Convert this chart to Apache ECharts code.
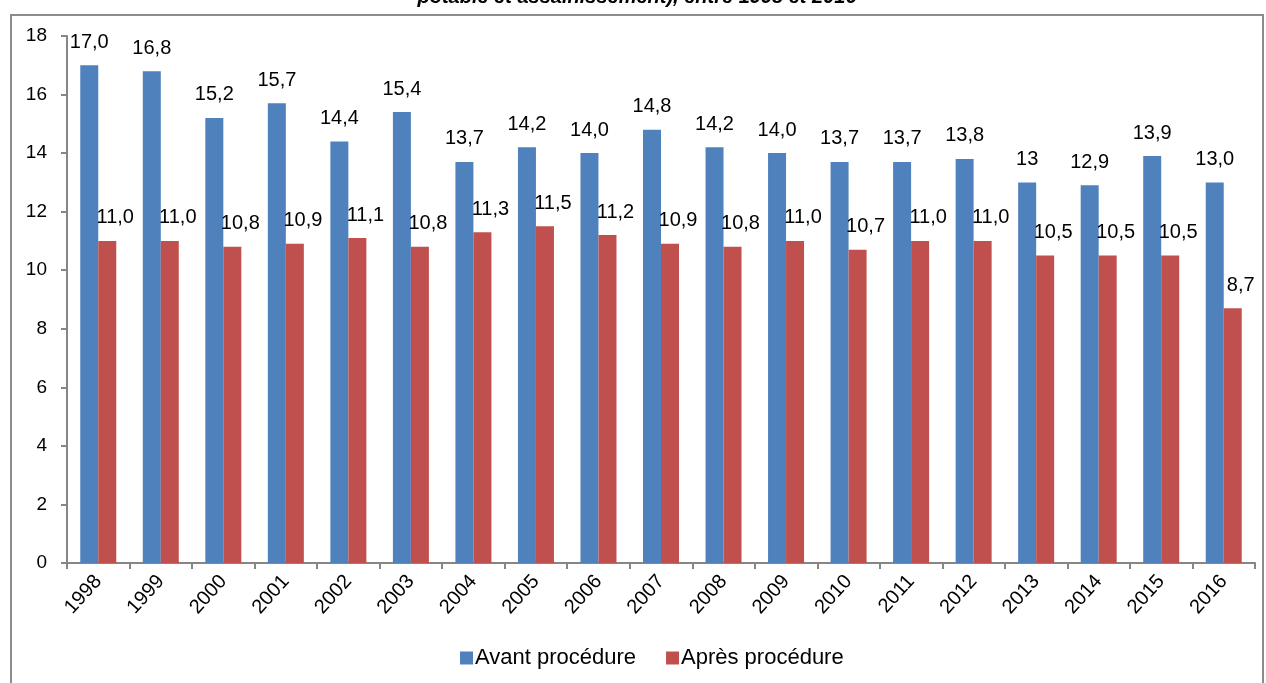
<!DOCTYPE html>
<html>
<head>
<meta charset="utf-8">
<script src="https://cdn.jsdelivr.net/npm/echarts@6/dist/echarts.min.js"></script>
<style>
  html, body { margin: 0; padding: 0; background: #fff; }
  #chart { width: 1266px; height: 683px; }
</style>
</head>
<body>
<div id="chart"></div>
<script>
// données
var annees = ['1998','1999','2000','2001','2002','2003','2004','2005','2006','2007',
              '2008','2009','2010','2011','2012','2013','2014','2015','2016'];
var avant = [17.0, 16.8, 15.2, 15.7, 14.4, 15.4, 13.7, 14.2, 14.0, 14.8,
             14.2, 14.0, 13.7, 13.7, 13.8, 13.0, 12.9, 13.9, 13.0];
var apres = [11.0, 11.0, 10.8, 10.9, 11.1, 10.8, 11.3, 11.5, 11.2, 10.9,
             10.8, 11.0, 10.7, 11.0, 11.0, 10.5, 10.5, 10.5, 8.7];
// étiquettes telles qu'affichées (2013 : "13")
var avantLabels = ['17,0','16,8','15,2','15,7','14,4','15,4','13,7','14,2','14,0','14,8',
                   '14,2','14,0','13,7','13,7','13,8','13','12,9','13,9','13,0'];
var apresLabels = ['11,0','11,0','10,8','10,9','11,1','10,8','11,3','11,5','11,2','10,9',
                   '10,8','11,0','10,7','11,0','11,0','10,5','10,5','10,5','8,7'];
var yTicks = [0, 2, 4, 6, 8, 10, 12, 14, 16, 18];

var font = '"Liberation Sans", Arial, sans-serif';
var chart = echarts.init(document.getElementById('chart'));

var option = {
    animation: false,
    textStyle: { fontFamily: font },
    // cadre + titre coupé en haut
    graphic: [
        {
            type: 'rect',
            shape: { x: 11, y: 15, width: 1252, height: 700 },
            style: { fill: 'none', stroke: '#8c8c8c', lineWidth: 2 }
        },
        {
            type: 'text',
            x: 637, y: 7,
            style: {
                text: 'potable et assainissement), entre 1998 et 2016',
                font: 'italic bold 20px ' + font,
                fill: '#000',
                align: 'center',
                verticalAlign: 'bottom'
            }
        }
    ],
    legend: {
        bottom: 9,
        left: 455,
        icon: 'rect',
        itemWidth: 13,
        itemHeight: 13,
        itemGap: 30,
        textStyle: { fontSize: 22, color: '#000', fontFamily: font, padding: [0, 0, 0, -3] },
        data: ['Avant procédure', 'Après procédure']
    },
    grid: { left: 67, right: 11, top: 36, bottom: 120 },
    xAxis: {
        type: 'category',
        data: annees,
        axisLine: { lineStyle: { color: '#868686', width: 2 } },
        axisTick: { show: true, length: 6, lineStyle: { color: '#868686', width: 2 } },
        axisLabel: { rotate: 48, fontSize: 20, color: '#000', margin: 15, interval: 0 }
    },
    yAxis: {
        type: 'value',
        min: yTicks[0],
        max: yTicks[yTicks.length - 1],
        interval: 2,
        splitLine: { show: false },
        axisLine: { show: true, lineStyle: { color: '#868686', width: 2 } },
        axisTick: { show: true, length: 6, lineStyle: { color: '#868686', width: 2 } },
        axisLabel: { fontSize: 19, color: '#000', margin: 20 }
    },
    series: [
        {
            name: 'Avant procédure',
            type: 'bar',
            barWidth: 18,
            barGap: '0%',
            itemStyle: { color: '#4F81BD' },
            label: {
                show: true,
                position: 'top',
                distance: 13,
                fontSize: 20,
                color: '#000',
                formatter: function (p) { return avantLabels[p.dataIndex]; }
            },
            data: avant
        },
        {
            name: 'Après procédure',
            type: 'bar',
            barWidth: 18,
            barGap: '0%',
            itemStyle: { color: '#C0504D' },
            label: {
                show: true,
                position: 'top',
                distance: 13,
                offset: [8, 0],
                fontSize: 20,
                color: '#000',
                formatter: function (p) { return apresLabels[p.dataIndex]; }
            },
            data: apres
        }
    ]
};

chart.setOption(option);
</script>
</body>
</html>
